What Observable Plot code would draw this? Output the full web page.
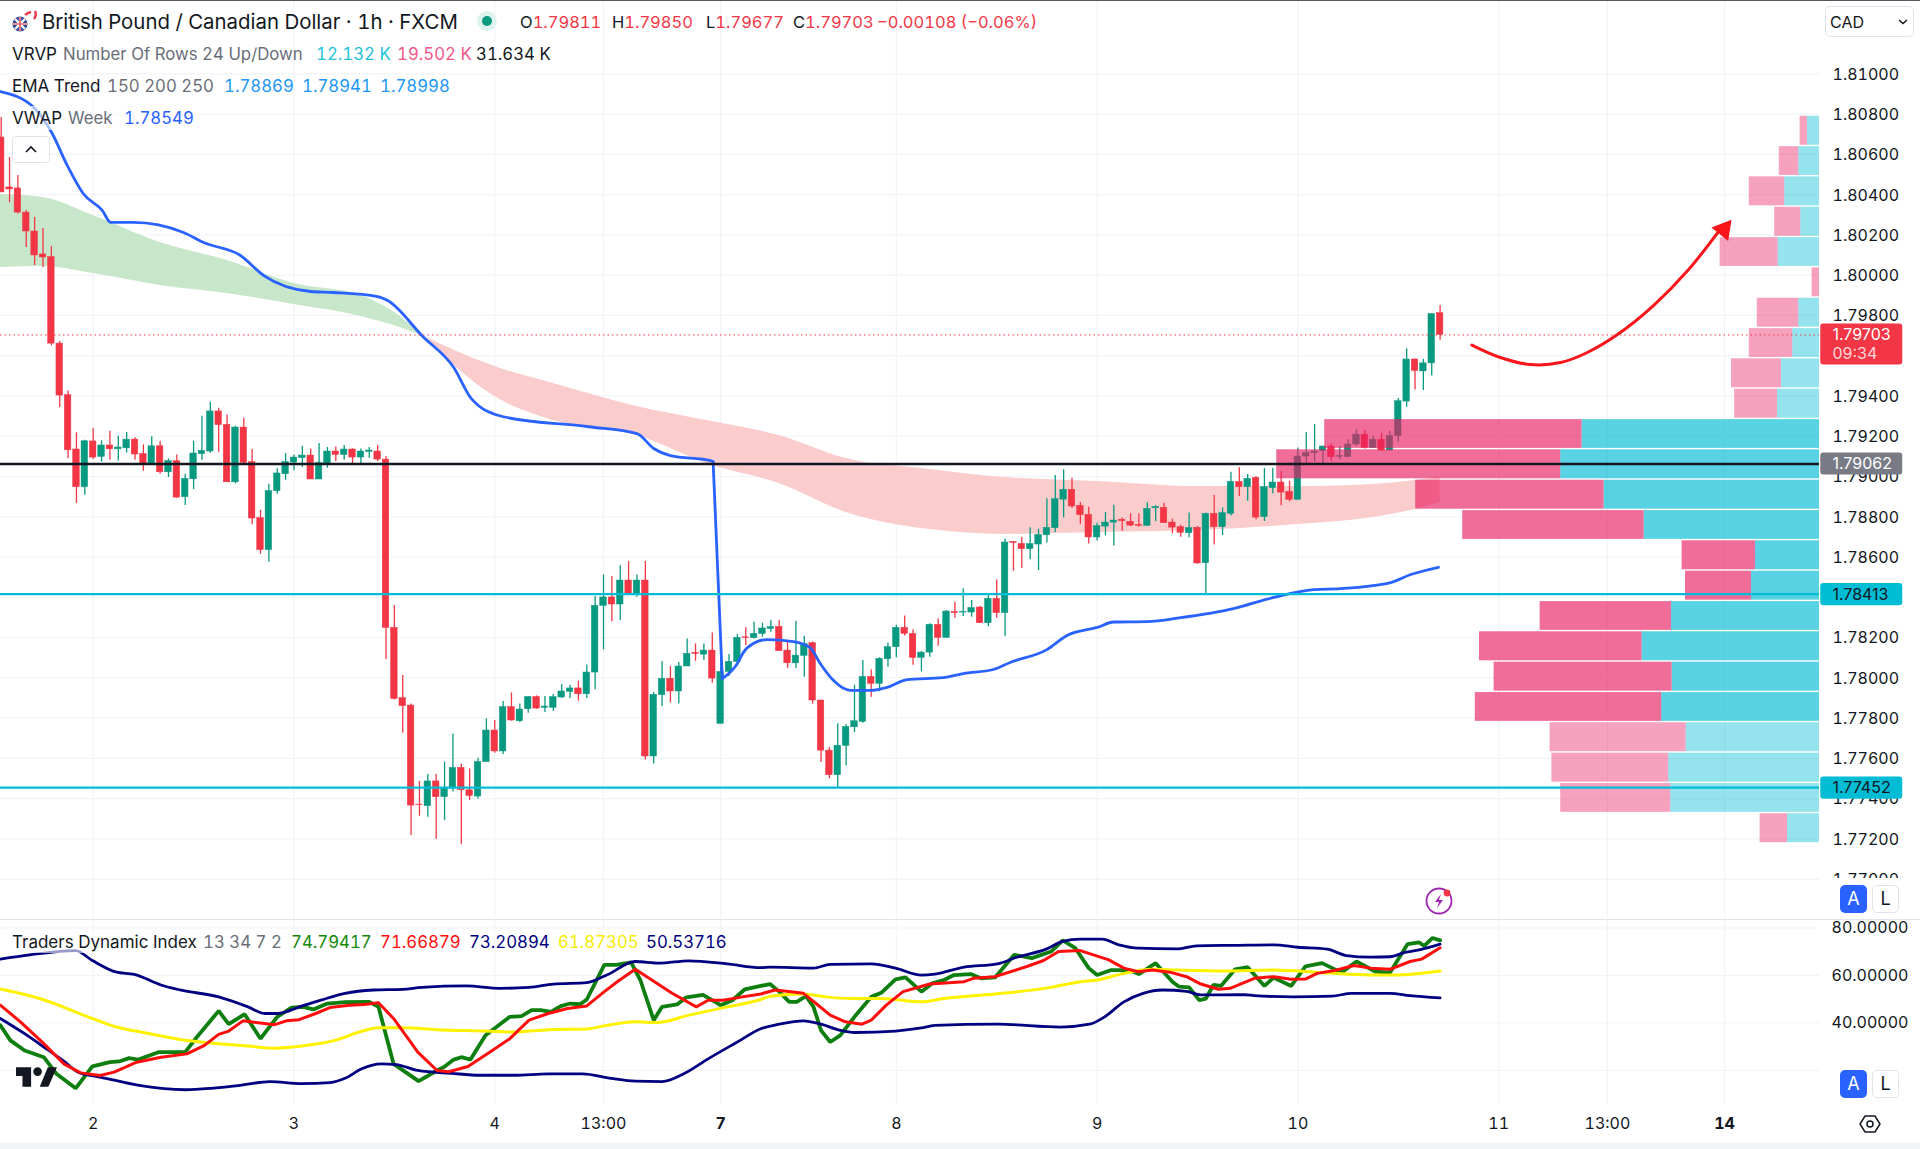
<!DOCTYPE html>
<html>
<head>
<meta charset="utf-8">
<script src="https://cdn.jsdelivr.net/npm/d3@7"></script>
<script src="https://cdn.jsdelivr.net/npm/@observablehq/plot@0.6"></script>
<style>
html,body{margin:0;padding:0;background:#fff;overflow:hidden}
#stage{position:relative;width:1920px;height:1149px;overflow:hidden;font-family:Inter,"Noto Sans",sans-serif;color:#131722}
#stage>div.pane{position:absolute;left:0}
.t{position:absolute;white-space:nowrap;line-height:20px}
.n{font-variant-numeric:tabular-nums}
.g{color:#6a6d78}
.box{position:absolute;box-sizing:border-box}
</style>
</head>
<body>
<div id="stage"></div>
<script>
// ---------- Candles (one entry per hour bar, bar 0 = the "2" day mark) ----------
const firstBar = -11;
const open = [1.80684,1.80436,1.80431,1.80311,1.80217,1.80103,1.80090,1.79660,1.79404,1.79134,1.78947,
1.79174,1.79097,1.79154,1.79135,1.79140,1.79183,1.79111,1.79061,1.79150,1.79021,
1.79076,1.78897,1.78986,1.79111,1.79124,1.79323,1.79256,1.78971,1.79243,1.79071,
1.78793,1.78634,1.78927,1.79011,1.79069,1.79091,1.79104,1.78985,1.79064,1.79124,
1.79107,1.79134,1.79094,1.79122,1.79124,1.79084,1.78248,1.77899,1.77862,1.77370,
1.77362,1.77485,1.77407,1.77450,1.77552,1.77441,1.77410,1.77581,1.77738,1.77634,
1.77854,1.77784,1.77844,1.77904,1.77851,1.77851,1.77902,1.77930,1.77947,1.77918,
1.78026,1.78357,1.78399,1.78364,1.78483,1.78410,1.78483,1.77609,1.77914,1.77995,
1.77932,1.78056,1.78124,1.78115,1.78135,1.77771,1.78029,1.78079,1.78201,1.78197,
1.78218,1.78243,1.78253,1.78135,1.78072,1.78109,1.78172,1.77887,1.77638,1.77516,
1.77662,1.77754,1.77781,1.78004,1.77970,1.78092,1.78152,1.78248,1.78218,1.78099,
1.78125,1.78263,1.78198,1.78327,1.78324,1.78324,1.78349,1.78271,1.78392,1.78321,
1.78675,1.78665,1.78639,1.78662,1.78708,1.78743,1.78885,1.78934,1.78854,1.78809,
1.78697,1.78751,1.78771,1.78785,1.78775,1.78760,1.78755,1.78842,1.78844,1.78771,
1.78748,1.78718,1.78745,1.78569,1.78814,1.78748,1.78814,1.78973,1.78947,1.78993,
1.78798,1.78942,1.78970,1.78924,1.78884,1.79099,1.79116,1.79126,1.79149,1.79098,
1.79096,1.79159,1.79208,1.79142,1.79182,1.79129,1.79200,1.79372,1.79581,1.79522,
1.79562,1.79811];
const high = [1.80783,1.80585,1.80495,1.80321,1.80287,1.80232,1.80142,1.79670,1.79425,1.79217,1.79180,
1.79238,1.79177,1.79225,1.79200,1.79218,1.79193,1.79157,1.79197,1.79175,1.79087,
1.79107,1.79011,1.79175,1.79299,1.79369,1.79339,1.79306,1.79250,1.79289,1.79134,
1.78832,1.78962,1.79039,1.79114,1.79107,1.79150,1.79137,1.79164,1.79144,1.79147,
1.79154,1.79137,1.79137,1.79144,1.79154,1.79099,1.78359,1.78011,1.77870,1.77485,
1.77519,1.77519,1.77581,1.77721,1.77572,1.77547,1.77600,1.77796,1.77788,1.77882,
1.77925,1.77870,1.77907,1.77910,1.77907,1.77917,1.77966,1.77961,1.77983,1.78063,
1.78404,1.78511,1.78503,1.78556,1.78578,1.78511,1.78578,1.77927,1.78081,1.78056,
1.78076,1.78193,1.78168,1.78168,1.78223,1.78115,1.78115,1.78215,1.78248,1.78276,
1.78271,1.78284,1.78284,1.78177,1.78281,1.78206,1.78178,1.77888,1.77652,1.77771,
1.77768,1.77963,1.78086,1.78039,1.78099,1.78173,1.78261,1.78307,1.78238,1.78130,
1.78268,1.78293,1.78334,1.78375,1.78442,1.78384,1.78354,1.78407,1.78486,1.78690,
1.78675,1.78698,1.78745,1.78738,1.78889,1.79005,1.79033,1.78993,1.78871,1.78847,
1.78768,1.78821,1.78857,1.78794,1.78814,1.78814,1.78869,1.78854,1.78867,1.78788,
1.78758,1.78818,1.78751,1.78818,1.78905,1.78844,1.79021,1.79043,1.79010,1.79000,
1.79040,1.79040,1.79023,1.78977,1.79142,1.79218,1.79258,1.79149,1.79162,1.79149,
1.79182,1.79232,1.79228,1.79199,1.79212,1.79225,1.79387,1.79634,1.79584,1.79582,
1.79807,1.79850];
const low = [1.80411,1.80361,1.80304,1.80137,1.80048,1.80038,1.79650,1.79343,1.79089,1.78866,1.78907,
1.79084,1.79072,1.79081,1.79077,1.79117,1.79081,1.79026,1.79061,1.79011,1.78995,
1.78892,1.78856,1.78935,1.79081,1.79116,1.79120,1.78971,1.78963,1.79064,1.78760,
1.78614,1.78574,1.78912,1.78981,1.79028,1.79044,1.78985,1.78985,1.79041,1.79074,
1.79081,1.79064,1.79064,1.79091,1.79074,1.78089,1.77890,1.77725,1.77216,1.77312,
1.77307,1.77198,1.77291,1.77432,1.77172,1.77390,1.77398,1.77581,1.77625,1.77619,
1.77784,1.77778,1.77824,1.77844,1.77827,1.77834,1.77897,1.77897,1.77884,1.77897,
1.77940,1.78139,1.78278,1.78284,1.78410,1.78400,1.77592,1.77572,1.77857,1.77875,
1.77870,1.78056,1.78082,1.78086,1.77973,1.77771,1.78006,1.78076,1.78160,1.78193,
1.78202,1.78226,1.78132,1.78047,1.78046,1.78003,1.77870,1.77579,1.77498,1.77453,
1.77562,1.77728,1.77774,1.77903,1.77930,1.78052,1.78099,1.78208,1.78062,1.78029,
1.78102,1.78157,1.78198,1.78296,1.78304,1.78301,1.78269,1.78254,1.78296,1.78205,
1.78529,1.78543,1.78586,1.78533,1.78669,1.78722,1.78794,1.78841,1.78761,1.78665,
1.78679,1.78705,1.78655,1.78728,1.78751,1.78748,1.78751,1.78775,1.78768,1.78715,
1.78698,1.78695,1.78563,1.78414,1.78659,1.78707,1.78804,1.78900,1.78877,1.78785,
1.78776,1.78914,1.78854,1.78874,1.78884,1.79063,1.79073,1.79063,1.79076,1.79083,
1.79092,1.79149,1.79136,1.79139,1.79126,1.79126,1.79170,1.79344,1.79430,1.79427,
1.79499,1.79677];
const close = [1.80411,1.80426,1.80311,1.80217,1.80098,1.80088,1.79660,1.79402,1.79130,1.78947,1.79175,
1.79094,1.79154,1.79135,1.79144,1.79183,1.79109,1.79061,1.79150,1.79021,1.79077,
1.78895,1.78988,1.79114,1.79127,1.79323,1.79255,1.78971,1.79243,1.79068,1.78791,
1.78634,1.78928,1.79015,1.79071,1.79094,1.79104,1.78985,1.79068,1.79124,1.79107,
1.79134,1.79094,1.79124,1.79129,1.79084,1.78248,1.77895,1.77859,1.77365,1.77367,
1.77485,1.77407,1.77453,1.77552,1.77441,1.77413,1.77581,1.77738,1.77634,1.77854,
1.77788,1.77842,1.77904,1.77847,1.77857,1.77904,1.77932,1.77947,1.77918,1.78026,
1.78357,1.78399,1.78364,1.78483,1.78410,1.78483,1.77609,1.77915,1.77995,1.77932,
1.78056,1.78119,1.78119,1.78135,1.77996,1.78029,1.78079,1.78198,1.78197,1.78218,
1.78245,1.78251,1.78132,1.78072,1.78110,1.78168,1.77887,1.77638,1.77516,1.77662,
1.77756,1.77784,1.78004,1.77970,1.78094,1.78152,1.78248,1.78218,1.78099,1.78125,
1.78263,1.78198,1.78329,1.78321,1.78327,1.78347,1.78271,1.78392,1.78321,1.78672,
1.78670,1.78639,1.78664,1.78710,1.78745,1.78887,1.78934,1.78851,1.78808,1.78697,
1.78753,1.78771,1.78781,1.78778,1.78756,1.78755,1.78839,1.78849,1.78768,1.78746,
1.78720,1.78743,1.78568,1.78814,1.78748,1.78818,1.78973,1.78947,1.78988,1.78796,
1.78947,1.78970,1.78920,1.78884,1.79099,1.79116,1.79124,1.79149,1.79096,1.79102,
1.79159,1.79208,1.79142,1.79182,1.79129,1.79202,1.79374,1.79581,1.79524,1.79562,
1.79807,1.79703];

// ---------- EMA ribbon ----------
const ribbonUpBars = [-11.1,-6,0,8,16,24,32,37,39.5];
const ribbonUpTop  = [1.80401,1.80386,1.80296,1.80162,1.80073,1.79959,1.79899,1.79785,1.79695];
const ribbonUpBot  = [1.80038,1.80043,1.80008,1.79949,1.79909,1.79854,1.79795,1.79735,1.79695];
const ribbonDnBars = [39.5,48,55,65,74,82,90,100,109,120,132,144,153,158,161];
const ribbonDnTop  = [1.79695,1.79546,1.79462,1.79348,1.79273,1.79203,1.79089,1.79035,1.78995,1.78975,1.78950,1.78950,1.78960,1.78980,1.78998];
const ribbonDnBot  = [1.79695,1.79397,1.79278,1.79203,1.79054,1.78965,1.78821,1.78736,1.78712,1.78722,1.78732,1.78761,1.78796,1.78836,1.78869];

// ---------- VWAP ----------
const vwapBars = [-11.1,-7.1,-4.9,-3.1,-1.2,1.1,2.1,4.8,10.8,13.2,17.6,20.4,26,28.7,34,35.2,39.4,43.1,45.2,48.9,59.2,65,67,69,73.8,74.1];
const vwapVals = [1.80912,1.80833,1.80704,1.80545,1.80406,1.80321,1.80262,1.80262,1.80212,1.80162,1.80098,1.79998,1.79919,1.79914,1.79894,1.79874,1.79695,1.79541,1.79387,1.79298,1.79247,1.79213,1.79139,1.79104,1.79079,1.79074];
const vwapBars2 = [75.2,77,77.7,78.9,80.6,83.7,85.7,86.9,88.5,90.5,92.9,94.9,97.3,101.6,104,107.6,109.6,114,116.4,120,122,126,130,136.3,141.1,145.9,149.1,155.1,157.5,160.8];
const vwapVals2 = [1.77996,1.78071,1.78125,1.78170,1.78190,1.78180,1.78150,1.78071,1.77986,1.77937,1.77937,1.77952,1.77991,1.78001,1.78021,1.78041,1.78076,1.78140,1.78210,1.78250,1.78277,1.78279,1.78299,1.78344,1.78399,1.78438,1.78443,1.78473,1.78513,1.78549];

// ---------- Volume profile, 24 rows from the top ----------
const rowTop = [1.80793,1.80642,1.80492,1.80341,1.80190,1.80040,1.79889,1.79738,1.79588,1.79437,1.79286,1.79136,1.78985,1.78834,1.78684,1.78533,1.78382,1.78232,1.78081,1.77930,1.77780,1.77629,1.77478,1.77328];
const rowBottom = [1.80642,1.80492,1.80341,1.80190,1.80040,1.79889,1.79738,1.79588,1.79437,1.79286,1.79136,1.78985,1.78834,1.78684,1.78533,1.78382,1.78232,1.78081,1.77930,1.77780,1.77629,1.77478,1.77328,1.77177];
const volUp   = [60,104,174,94,207,0,104,134,190,210,1187,1294,1077,877,320,340,740,887,737,789,667,754,744,160];
const volDown = [37,97,177,130,290,37,207,217,250,214,1287,1420,942,907,367,330,657,813,890,932,680,584,550,137];
const inValueArea = [0,0,0,0,0,0,0,0,0,0,1,1,1,1,1,1,1,1,1,1,0,0,0,0];

// ---------- Price levels and tags ----------
const priceTicks = [1.81,1.808,1.806,1.804,1.802,1.8,1.798,1.796,1.794,1.792,1.79,1.788,1.786,1.784,1.782,1.78,1.778,1.776,1.774,1.772,1.77];
const priceTickLabels = [1.81,1.808,1.806,1.804,1.802,1.8,1.798,1.794,1.792,1.79,1.788,1.786,1.782,1.78,1.778,1.776,1.774,1.772,1.77];
const lastPrice = 1.79703;
const blackLevel = 1.79062;
const cyanLevels = [1.78413,1.77452];
const tagValues = ["1.79703","1.79062","1.78413","1.77452"];
const tagTop    = [1.79758,1.79117,1.78468,1.77507];
const tagBottom = [1.79554,1.79007,1.78358,1.77397];
const tagFill   = ["#F23645","#787B86","#00BCD4","#00BCD4"];
const tagInk    = ["#ffffff","#ffffff","#131722","#131722"];

// ---------- Drawn arrow ----------
const arrowBars = [164.8,168.2,171.8,175.4,178.6,182.2,186.5,190.6,194.5];
const arrowVals = [1.79653,1.79591,1.79556,1.79566,1.79616,1.79705,1.79849,1.80023,1.80229];
const arrowHead = {bar:194.9,val:1.80227};

// ---------- Time axis ----------
const dayBars = [0,24,48,61,75,96,120,144,168,181,195];
const dayLabels = ["2","3","4","13:00","7","8","9","10","11","13:00","14"];
const boldDays = [75,195];

// ---------- Traders Dynamic Index ----------
const tdiTicks = [80,60,40,20];
const greenBars = [-11.1,-9.9,-8.2,-5.9,-4.4,-2.1,-0.1,2,3.1,4.3,5.4,7.8,11,12.4,15,16.2,18.1,20,22,23.7,25.1,26.3,28,30.1,33,34.1,35.9,38.9,41.1,41.9,43.1,44,45.1,46.9,49.8,51.2,52.4,53.5,54.7,55.9,57,58.2,59,61.1,62.5,64.3,65.4,67,68,69.8,70.9,72.9,75,76.4,77.9,79.8,80.9,82,83.2,84.1,85.2,86.1,87,88.1,89.3,91,93,94.2,95.9,97.1,99,100.3,101.7,102.9,104.9,106.1,107.8,110.1,112.2,114.5,115.9,117.4,119,120,121.7,123.8,125,127,129,129.8,131,132.2,133,133.9,134.8,136.5,138,140,141.1,143.2,144.9,146.9,149.2,151,153.3,155,157.1,158.5,159.1,160.1,161];
const greenVals = [39,32.7,28.4,25.6,18.6,12.5,21.7,23.5,23.8,25.2,24.6,27.7,27.7,34.1,45.1,39.5,43.7,33.4,42.6,46.5,46.8,45.7,48.2,48.8,48.9,46.8,22.8,15.5,20,21.4,24.6,25.6,24.6,34.8,42.6,42.9,45.4,45.4,44.7,47.1,48.2,47.9,49.9,64.5,64.5,65.5,58.1,41.2,46.8,47.8,50.8,51.8,47.5,49.6,54.2,55.6,56.4,53.2,48.9,48.9,51.3,46.8,36.9,32,34.8,42.6,51,52.7,58.4,59.2,53.2,56.7,58.1,60.2,60.6,58.8,59.2,68.7,67.3,70.1,74.8,71.5,63.1,60.2,62.3,62.3,60.6,65.2,57.4,55.3,55,49.6,50.3,56,55.6,62.6,63.5,55.6,59.1,55.6,63.8,65.2,61.2,65.9,61.6,61.2,73.2,73.9,72.5,75.8,74.79];
const redBars = [-11.1,-8.7,-5.9,-3.5,-1.5,0.8,2.5,5.2,8.1,11.2,13.3,15,16.2,17.9,21.7,23.1,24.6,26.6,28.3,30.6,32.4,34.1,35.9,38.8,41.1,42.5,44.8,47.7,49.8,52.1,54.4,56.7,59,61.1,62.8,64.8,69.2,72.1,73.5,75.3,77.6,79.8,81.5,82.9,84.9,86.4,88.1,89.9,91.9,93,94.8,96.8,100,104.1,105.2,107.8,111.6,113.6,115.4,118,121.4,123.2,124.9,126.6,128.7,130.7,132.4,134.5,135.9,138.8,141.1,143.2,144.9,146.3,148.4,150.7,152.7,155,157.4,158.8,161];
const redVals = [47.5,40.5,31.3,22.8,19,17.9,19.3,23.5,25.6,27,30.6,35.2,36.6,40.9,39.3,40.9,41.4,44,46.5,47.5,47.8,48.5,41.9,27.7,20,19.5,21.7,28.4,33.4,41.2,44,46.1,47.2,53.2,57.8,62.6,52.5,46.8,49.6,49.6,51,52.2,53.9,53.4,52.5,48.2,43.3,40.5,39.5,41.2,47.5,53.2,56.4,57.4,58.8,59.5,63.8,66.3,70.1,70.5,66.6,63.1,61.6,62.3,61.4,59.5,56.4,54.2,54.6,58.8,59.5,58.4,58.5,60.9,62.1,64.2,63.1,62.6,65.9,66.9,71.67];
const yellowBars = [-11.1,-6.4,-0.1,2.8,6.3,11,15,18.5,21.7,26,28.9,31.8,34.1,37,41.1,46.9,50.3,54.4,59,61.4,64.8,67.4,71.2,75.8,79.8,80.9,84.9,87.5,90.7,94.2,99,101.7,107.8,114.5,118,120,123.2,126.6,129.5,135.3,141.1,146.9,152.7,155.6,161];
const yellowVals = [54.3,50.3,41.9,38.3,35.8,32.7,31.3,30.3,29.4,30.8,32.7,36.2,38,38,37.2,36.6,36.2,37.2,37.5,39,40.5,40.2,43.3,46.8,49.9,51.3,52.2,51,50.3,50.3,48.9,50.3,52.2,55,57.4,58.1,60.9,62.6,62.3,61.9,62.3,61.2,60.2,60.2,61.87];
const upperBars = [-11.1,-7.6,-2.1,-0.1,2.8,4.9,8.1,10.4,15,18.5,20.5,22,24.9,27.2,30.1,33.5,37,39.3,44.6,48.6,52.1,55,59,61.4,64.8,67.7,71.2,75.8,79.8,80.9,86.1,88.1,93,95.9,99,100.6,104.1,108.1,110.4,113.9,115.9,118,120.6,122.6,124.9,129.5,131.9,136.5,141.1,144,147.5,149.8,152.7,155,156.8,158.5,161];
const upperVals = [66.9,68.7,70.5,66.3,61.4,60.5,56,53.9,51,46.8,44,44,47.1,49.6,52.5,53.9,54.2,55,55.6,54.6,55,56.4,57,60.2,65.9,65.2,66.2,64.9,63.3,63.5,63.1,64.7,64.9,63.1,60.2,60.6,63.5,64.9,67.7,71.1,74.4,75.3,75.3,72.9,71.5,71.2,72.5,72.7,72.9,71.9,71.1,68.4,67.7,67.9,69.7,70.8,73.21];
const lowerBars = [-11.1,-8.2,-5.9,-3.5,-1.8,0.5,2.8,5.7,11,14.4,17.3,21.1,24.9,28.3,30.1,32.1,34.4,36.2,38.8,42.8,46.3,50.3,54.4,58.5,61.9,64.8,68,70.6,73.5,77,79.8,82,84.9,87,89.3,91,95.9,99,100.6,108.1,115.6,119.1,120.9,123.2,125.5,127.8,130.7,132.4,137.7,138.8,143.4,148.1,150.4,155,157.4,161];
const lowerVals = [41.9,35.5,29.9,23.9,19.3,17.4,15.7,13.6,11.9,12.6,13.6,15.3,14.5,14.9,16.7,20.7,22.8,22.5,20,18.8,18,18,18.6,18.6,16.7,15.5,15.3,18.6,24.9,32,37.6,39.5,40.9,39.5,36.9,36,36.6,37.9,39,39.5,38.3,39.5,42.6,48.9,52.5,53.9,53.3,51.8,51.9,51.5,51,51.3,52.5,52.5,51.5,50.54];

// ---------- Build tables ----------
const zip = (xs, ys) => xs.map((x, k) => ({bar: x, val: ys[k]}));
const candles = open.map((o, k) => ({bar: k + firstBar, open: o, high: high[k], low: low[k], close: close[k], up: close[k] >= o}));
const ribbonUp = ribbonUpBars.map((b, k) => ({bar: b, a: ribbonUpTop[k], b2: ribbonUpBot[k]}));
const ribbonDn = ribbonDnBars.map((b, k) => ({bar: b, a: ribbonDnTop[k], b2: ribbonDnBot[k]}));
const rows = rowTop.map((t, k) => ({top: t, bottom: rowBottom[k], up: volUp[k], down: volDown[k], va: inValueArea[k]}));
const tags = tagValues.map((t, k) => ({text: t, value: +t, top: tagTop[k], bottom: tagBottom[k], fill: tagFill[k], ink: tagInk[k]}));
const dayLabel = new Map(dayBars.map((b, k) => [b, dayLabels[k]]));

const GRID = "#F1F3F6", RED = "#F23645", GREEN = "#089981", BLUE = "#2962FF";
const LEFT_BAR = -11.08, PANE_RIGHT = 206.35, TAG_END = 216.3, TAG_TEXT = 207.9;
const VOL_PER_BAR = 41.83;          // horizontal size of the profile
const xScale = {domain: [LEFT_BAR, PANE_RIGHT], range: [0, 1819], axis: null};
const pct = 0.15;

const volX = v => PANE_RIGHT - v / VOL_PER_BAR;

// ---------- Price pane ----------
const mainPlot = Plot.plot({
  width: 1920, height: 918, marginLeft: 0, marginRight: 101, marginTop: 0, marginBottom: 0,
  style: {fontFamily: "Inter, sans-serif", background: "transparent", color: "#131722"},
  x: xScale,
  y: {domain: [1.768041, 1.813646], axis: null},
  marks: [
    Plot.ruleY(priceTicks, {stroke: GRID, strokeWidth: 1.2}),
    Plot.ruleX(dayBars, {stroke: GRID, strokeWidth: 1.2}),
    Plot.axisY(priceTickLabels, {anchor: "right", tickSize: 0, tickPadding: 13, dy: 0.8, tickFormat: d => d.toFixed(5), fontSize: 16, label: null, fill: "#131722"}),
    Plot.areaY(ribbonUp, {x: "bar", y1: "a", y2: "b2", fill: "#C8E6C9", curve: "monotone-x"}),
    Plot.areaY(ribbonDn, {x: "bar", y1: "a", y2: "b2", fill: "#FBCCCC", curve: "monotone-x"}),
    Plot.ruleX(candles, {x: "bar", y1: "low", y2: "high", stroke: d => d.up ? GREEN : RED, strokeWidth: 1.3}),
    Plot.rect(candles, {x1: d => d.bar - 0.39, x2: d => d.bar + 0.39, y1: "open", y2: "close", fill: d => d.up ? GREEN : RED, stroke: d => d.up ? GREEN : RED, strokeWidth: 0.5}),
    Plot.line(zip(vwapBars, vwapVals), {x: "bar", y: "val", stroke: BLUE, strokeWidth: 2.8, curve: "monotone-x"}),
    Plot.line(zip([74.1, 75.2], [1.79074, 1.77996]), {x: "bar", y: "val", stroke: BLUE, strokeWidth: 2.8}),
    Plot.line(zip(vwapBars2, vwapVals2), {x: "bar", y: "val", stroke: BLUE, strokeWidth: 2.8, curve: "monotone-x"}),
    // profile: up volume against the right edge, down volume beyond it
    Plot.rect(rows, {x1: d => volX(d.up), x2: PANE_RIGHT, y1: "bottom", y2: "top", insetTop: 0.7, insetBottom: 0.7, fill: "#00BCD4", fillOpacity: d => d.va ? 0.65 : 0.42}),
    Plot.rect(rows, {x1: d => volX(d.up + d.down), x2: d => volX(d.up), y1: "bottom", y2: "top", insetTop: 0.7, insetBottom: 0.7, fill: "#E91E63", fillOpacity: d => d.va ? 0.65 : 0.42}),
    Plot.ruleY(cyanLevels, {stroke: "#00BCD4", strokeWidth: 2.2, dy: -0.5}),
    Plot.ruleY([lastPrice], {stroke: RED, strokeWidth: 1, strokeDasharray: "1.5,3"}),
    Plot.ruleY([blackLevel], {stroke: "#131722", strokeWidth: 2.6}),
    Plot.line(zip(arrowBars, arrowVals), {x: "bar", y: "val", stroke: "#F9151A", strokeWidth: 3, curve: "catmull-rom"}),
    Plot.dot([arrowHead], {x: "bar", y: "val", symbol: "triangle", r: 8, fill: "#F9151A", rotate: 39}),
    Plot.rect(tags, {x1: PANE_RIGHT + pct, x2: TAG_END, y1: "bottom", y2: "top", fill: "fill", rx: 3}),
    Plot.text(tags, {x: TAG_TEXT, y: "value", text: "text", fill: "ink", fontSize: 16, textAnchor: "start", fontFamily: "Inter, sans-serif"}),
    Plot.text(["09:34"], {x: TAG_TEXT, y: [1.79611], text: d => d, fill: "#FBD5D9", fontSize: 16, textAnchor: "start"})
  ]
});

// ---------- Indicator pane and time axis ----------
const tdiPlot = Plot.plot({
  width: 1920, height: 225, marginLeft: 0, marginRight: 101, marginTop: 0, marginBottom: 39,
  style: {fontFamily: "Inter, sans-serif", background: "transparent", color: "#131722"},
  x: xScale,
  y: {domain: [5.26, 83.58], axis: null},
  marks: [
    Plot.ruleY(tdiTicks, {stroke: GRID, strokeWidth: 1.2}),
    Plot.ruleX(dayBars, {stroke: GRID, strokeWidth: 1.2}),
    Plot.axisY(tdiTicks, {anchor: "right", tickSize: 0, tickPadding: 12, tickFormat: d => d.toFixed(5), fontSize: 16, label: null, fill: "#131722"}),
    Plot.line(zip(greenBars, greenVals), {x: "bar", y: "val", stroke: "#0E7F0E", strokeWidth: 3.8, strokeLinejoin: "miter"}),
    Plot.line(zip(yellowBars, yellowVals), {x: "bar", y: "val", stroke: "#FFF200", strokeWidth: 3, curve: "monotone-x"}),
    Plot.line(zip(upperBars, upperVals), {x: "bar", y: "val", stroke: "#000080", strokeWidth: 2.8, curve: "monotone-x"}),
    Plot.line(zip(lowerBars, lowerVals), {x: "bar", y: "val", stroke: "#000080", strokeWidth: 2.8, curve: "monotone-x"}),
    Plot.line(zip(redBars, redVals), {x: "bar", y: "val", stroke: "#FF0D0D", strokeWidth: 3}),
    Plot.axisX(dayBars.filter(b => !boldDays.includes(b)), {anchor: "bottom", tickSize: 0, tickPadding: 12, tickFormat: d => dayLabel.get(d), fontSize: 16, label: null, fill: "#131722"}),
    Plot.axisX(boldDays, {anchor: "bottom", tickSize: 0, tickPadding: 12, tickFormat: d => dayLabel.get(d), fontSize: 16, fontWeight: 700, label: null, fill: "#131722"})
  ]
});

// ---------- Page assembly ----------
const stage = document.getElementById("stage");
const pane = (node, top) => { const d = document.createElement("div"); d.className = "pane"; d.style.top = top + "px"; d.appendChild(node); stage.appendChild(d); };
pane(mainPlot, 0);
pane(tdiPlot, 919);

const html = (s) => stage.insertAdjacentHTML("beforeend", s);
const span = (c, s) => `<span style="color:${c}">${s}</span>`;
const text = (x, cy, size, s, extra = "") => html(`<div class="t n" style="left:${x}px;top:${cy - 10}px;font-size:${size}px;${extra}">${s}</div>`);
const box = (x, y, w, h, style, inner = "") => html(`<div class="box" style="left:${x}px;top:${y}px;width:${w}px;height:${h}px;${style}">${inner}</div>`);

// frame lines
box(0, 0, 1920, 1, "background:#55585f");
box(0, 919, 1920, 1, "background:#E0E3EB");
box(0, 1143, 1920, 6, "background:#F2F3F6");

// white masks where the buttons cut the axis labels
box(1820, 878, 100, 41, "background:#fff");
box(1820, 1064, 100, 41, "background:#fff");

// translucent legend rows over the lines
box(8, 106, 190, 24, "background:rgba(255,255,255,.6)");
box(8, 931, 760, 22, "background:rgba(255,255,255,.6)");

// header legend
html(`<svg class="box" style="left:10px;top:9px" width="28" height="26" viewBox="0 0 28 26"><circle cx="10" cy="15" r="7.5" fill="#2b4a9b"/><path d="M3 15h14M10 8v14M5 10l10 10M15 10L5 20" stroke="#fff" stroke-width="2.2"/><path d="M3 15h14M10 8v14" stroke="#e0242f" stroke-width="1.2"/><path d="M15 6a11 11 0 0 1 6-3M25 2q2 4-1 8" fill="none" stroke="#e8354a" stroke-width="2.4"/></svg>`);
text(42, 22, 20.4, "British Pound / Canadian Dollar · 1h · FXCM");
html(`<div class="box" style="left:477px;top:11px;width:20px;height:20px;border-radius:50%;background:#DFF3EE"></div><div class="box" style="left:482px;top:16px;width:10px;height:10px;border-radius:50%;background:#089981"></div>`);
const V = "#F23645";
text(520, 22, 16.5, `O${span(V,"1.79811")}`);
text(612, 22, 16.5, `H${span(V,"1.79850")}`);
text(706, 22, 16.5, `L${span(V,"1.79677")}`);
text(793, 22, 16.5, `C${span(V,"1.79703")}`);
text(877, 22, 16.5, span(V, "−0.00108 (−0.06%)"));

text(12, 54, 17, "VRVP");
text(63, 54, 16.8, `<span class="g">Number Of Rows 24 Up/Down</span>`);
text(316, 54, 16.8, span("#22C3D8", "12.132 K"));
text(397, 54, 16.8, span("#F0568A", "19.502 K"));
text(476, 54, 16.8, "31.634 K");

text(12, 86, 17, "EMA Trend");
text(107, 86, 16.8, `<span class="g">150 200 250</span>`);
text(224, 86, 16.8, span("#2196F3", "1.78869"));
text(302, 86, 16.8, span("#2196F3", "1.78941"));
text(380, 86, 16.8, span("#2196F3", "1.78998"));

text(12, 118, 17, "VWAP");
text(68, 118, 16.8, `<span class="g">Week</span>`);
text(124, 118, 16.8, span("#2962FF", "1.78549"));

box(12, 136, 38, 27, "background:#fff;border:1px solid #E0E3EB;border-radius:4px", `<svg width="36" height="25" viewBox="0 0 36 25"><path d="M13 15l5-5 5 5" fill="none" stroke="#131722" stroke-width="1.6"/></svg>`);

// indicator legend
text(12, 942, 17, `Traders Dynamic Index`);
text(203, 942, 16.8, `<span class="g">13 34 7 2</span>`);
text(291, 942, 16.8, span("#138808", "74.79417"));
text(380, 942, 16.8, span("#FF0D0D", "71.66879"));
text(469, 942, 16.8, span("#000080", "73.20894"));
text(558, 942, 16.8, span("#F5EC00", "61.87305"));
text(646, 942, 16.8, span("#000080", "50.53716"));

// TradingView logo
html(`<svg class="box" style="left:16px;top:1067px" width="41" height="20" viewBox="0 6 38 18"><path fill="#131722" d="M14 6H0v8h6v10h8zm16 18h-8L29.5 6H38zM24 10a4 4 0 1 1-8 0 4 4 0 0 1 8 0"/></svg>`);

// currency selector
box(1825, 6, 89, 31, "background:#fff;border:1px solid #E0E3EB;border-radius:5px");
text(1830, 22, 16, "CAD");
html(`<svg class="box" style="left:1897px;top:17px" width="12" height="10"><path d="M2 3l4 3.5L10 3" fill="none" stroke="#131722" stroke-width="1.5"/></svg>`);

// auto / log buttons
[885, 1070].forEach(y => {
  box(1840, y, 27, 28, "background:#2962FF;border-radius:5px;color:#fff;font-size:18px;line-height:28px;text-align:center", "A");
  box(1872, y, 27, 28, "background:#fff;border:1px solid #E0E3EB;border-radius:5px;color:#131722;font-size:18px;line-height:26px;text-align:center", "L");
});

// lightning badge
html(`<svg class="box" style="left:1424px;top:886px" width="30" height="30" viewBox="0 0 30 30"><circle cx="15" cy="15" r="12.5" fill="none" stroke="#9C27B0" stroke-width="1.8"/><path d="M17 8l-6 8h4l-2 6 6-8h-4z" fill="#9C27B0"/><circle cx="23" cy="7" r="3.4" fill="#F23645"/></svg>`);

// settings hexagon
html(`<svg class="box" style="left:1859px;top:1114px" width="22" height="20" viewBox="0 0 22 20"><path d="M6 2h10l5 8-5 8H6l-5-8z" fill="none" stroke="#131722" stroke-width="1.5"/><circle cx="11" cy="10" r="3" fill="none" stroke="#131722" stroke-width="1.5"/></svg>`);
</script>
</body>
</html>
